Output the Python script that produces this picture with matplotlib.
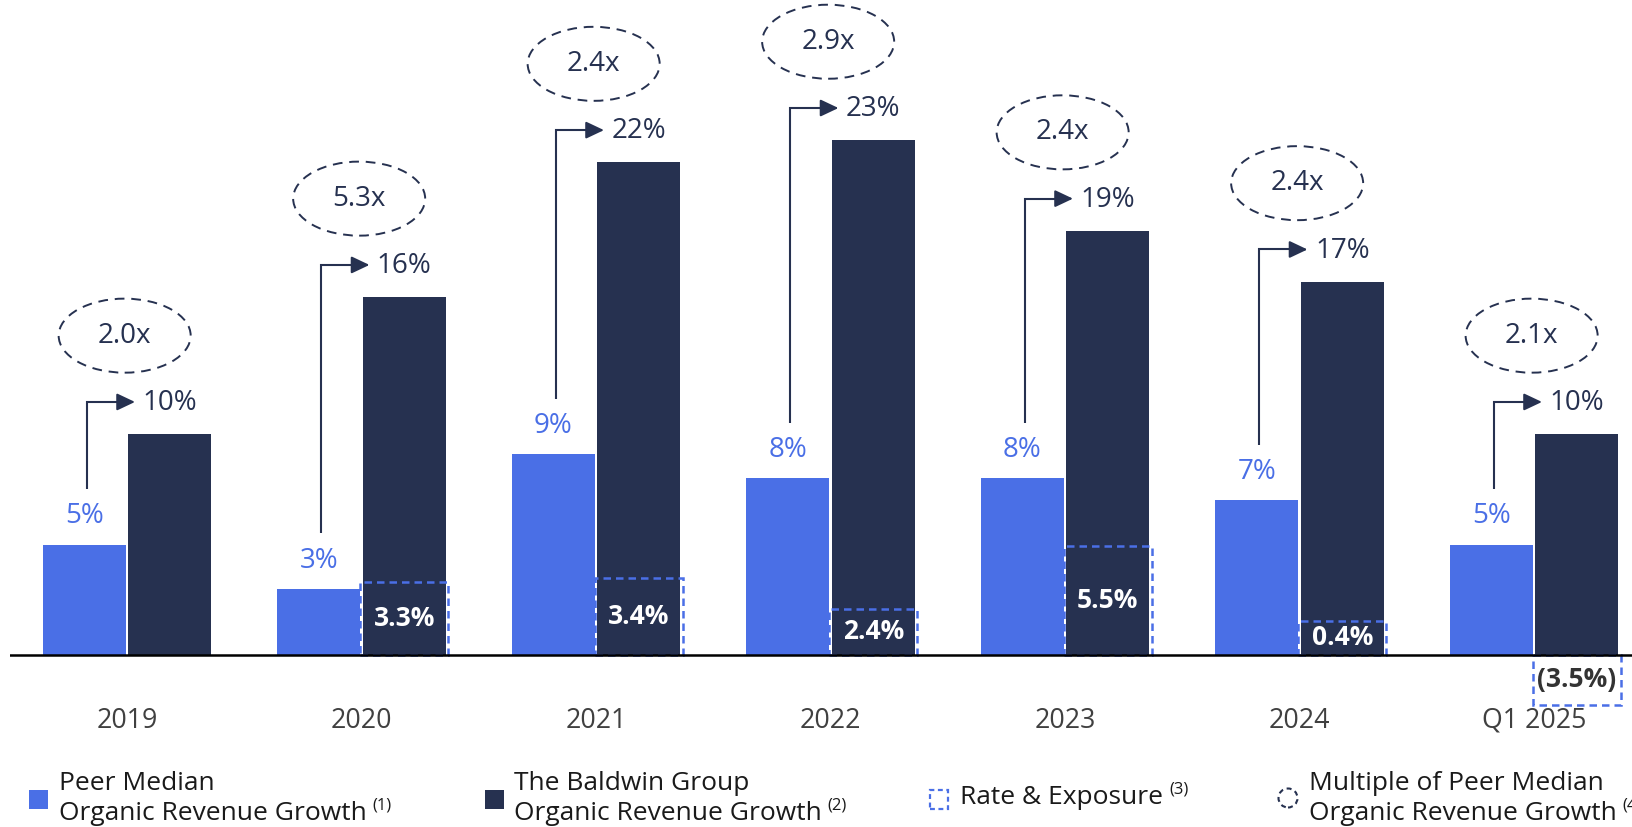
import matplotlib
matplotlib.use("Agg")
import matplotlib.pyplot as plt
from matplotlib.patches import Ellipse, Rectangle, FancyArrowPatch, ArrowStyle
import numpy as np

plt.rcParams['font.family'] = ['Open Sans', 'DejaVu Sans']

# ---------------- data ----------------
categories = ["2019", "2020", "2021", "2022", "2023", "2024", "Q1 2025"]
peer_values = [5.0, 3.0, 9.1, 8.0, 8.0, 7.0, 5.0]
peer_labels = ["5%", "3%", "9%", "8%", "8%", "7%", "5%"]
baldwin_values = [10.0, 16.2, 22.3, 23.3, 19.2, 16.9, 10.0]
baldwin_labels = ["10%", "16%", "22%", "23%", "19%", "17%", "10%"]
multiple_labels = ["2.0x", "5.3x", "2.4x", "2.9x", "2.4x", "2.4x", "2.1x"]
rate_labels = [None, "3.3%", "3.4%", "2.4%", "5.5%", "0.4%", "(3.5%)"]
rate_box_heights = [None, 3.3, 3.5, 2.1, 4.95, 1.55, -2.25]

legend_items = [
    ("Peer Median", "Organic Revenue Growth", "(1)"),
    ("The Baldwin Group", "Organic Revenue Growth", "(2)"),
    ("Rate & Exposure", None, "(3)"),
    ("Multiple of Peer Median", "Organic Revenue Growth", "(4)"),
]

# ---------------- style ----------------
PEER = "#4A6FE6"
NAVY = "#263150"
BOXC = "#4A6FE6"
CATC = "#404040"
LEGC = "#1a1a1a"

W, H = 1632, 827
fig = plt.figure(figsize=(W / 100, H / 100), dpi=100)
fig.patch.set_facecolor("white")

ax_left_px, ax_bottom_px = 10, 740
ax = fig.add_axes([ax_left_px / W, (H - ax_bottom_px) / H, 1 - ax_left_px / W, ax_bottom_px / H])
px_per_pct = 22.1
base_px = 655
ax.set_ylim(-(ax_bottom_px - base_px) / px_per_pct, base_px / px_per_pct)
ax.set_xlim(-0.499, 6.418)
ax.axis("off")

x = np.arange(len(categories))
bw = 0.354
off = 0.1825

ax.bar(x - off, peer_values, width=bw, color=PEER, zorder=2)
ax.bar(x + off, baldwin_values, width=bw, color=NAVY, zorder=2)
ax.axhline(0, color="black", lw=1.8, zorder=4)

for i in range(len(categories)):
    pv, bv = peer_values[i], baldwin_values[i]
    # peer label
    ax.text(x[i] - off, pv + 1.27, peer_labels[i], ha="center", va="center",
            fontsize=20, color=PEER, zorder=5)
    # baldwin label
    ax.text(x[i] + off, bv + 1.4, baldwin_labels[i], ha="center", va="center",
            fontsize=20, color=NAVY, zorder=5)
    # elbow arrow
    xv = x[i] - 0.172
    xt = x[i] + 0.034
    ya = bv + 1.45
    ax.plot([xv, xv, xt - 0.03], [pv + 2.5, ya, ya], color=NAVY, lw=1.5,
            solid_joinstyle="miter", solid_capstyle="butt", zorder=5)
    arr = FancyArrowPatch((xt - 0.05, ya), (xt, ya),
                          arrowstyle=ArrowStyle("-|>", head_length=11, head_width=5.2),
                          mutation_scale=1, lw=1.5, color=NAVY, shrinkA=0, shrinkB=0, zorder=5)
    ax.add_patch(arr)
    # multiple ellipse
    ey = bv + 4.45
    ax.add_patch(Ellipse((x[i] - 0.01, ey), 0.563, 3.35, fill=False, edgecolor=NAVY,
                         lw=1.4, linestyle=(0, (5, 3.5)), zorder=5))
    ax.text(x[i] - 0.01, ey, multiple_labels[i], ha="center", va="center",
            fontsize=20, color=NAVY, zorder=6)
    # rate & exposure box
    if rate_labels[i] is not None:
        h = rate_box_heights[i]
        pad = 0.011
        ax.add_patch(Rectangle((x[i] + off - bw / 2 - pad, 0), bw + 2 * pad, h, fill=False,
                               edgecolor=BOXC, lw=1.8, linestyle=(0, (3, 2)), zorder=3))
        col = "white" if h > 0 else "#333333"
        ax.text(x[i] + off, h / 2, rate_labels[i], ha="center", va="center",
                fontsize=19, fontweight="bold", color=col, zorder=6)
    # category label
    ax.text(x[i], -(721 - base_px) / px_per_pct, categories[i], ha="center", va="center",
            fontsize=19.3, color=CATC)

# ---------------- legend ----------------
def fx(px):
    return px / W

def fy(py):
    return 1 - py / H

# markers
fig.patches.append(Rectangle((fx(29), fy(809)), 19 / W, 19 / H, transform=fig.transFigure,
                             facecolor=PEER, edgecolor="none"))
fig.patches.append(Rectangle((fx(485), fy(809)), 19 / W, 19 / H, transform=fig.transFigure,
                             facecolor=NAVY, edgecolor="none"))
fig.patches.append(Rectangle((fx(930), fy(809)), 18 / W, 19 / H, transform=fig.transFigure,
                             fill=False, edgecolor=BOXC, lw=1.6, linestyle=(0, (2.2, 1.6))))
fig.patches.append(Ellipse((fx(1288), fy(798)), 19 / W, 19 / H, transform=fig.transFigure,
                           fill=False, edgecolor=NAVY, lw=1.5, linestyle=(0, (2.4, 1.8))))

text_x = [59, 514, 960, 1309]
renderer = fig.canvas.get_renderer()
for (l1, l2, sup), tx in zip(legend_items, text_x):
    if l2 is None:
        t = fig.text(fx(tx), fy(798), l1, ha="left", va="center", fontsize=19, color=LEGC)
        sy = 790
    else:
        fig.text(fx(tx), fy(784), l1, ha="left", va="center", fontsize=19, color=LEGC)
        t = fig.text(fx(tx), fy(813), l2, ha="left", va="center", fontsize=19, color=LEGC)
        sy = 805
    bb = t.get_window_extent(renderer=renderer)
    fig.text((bb.x1 + 6) / W, fy(sy), sup, ha="left", va="center", fontsize=12, color=LEGC)

fig.savefig("out.png", dpi=100, facecolor="white")
